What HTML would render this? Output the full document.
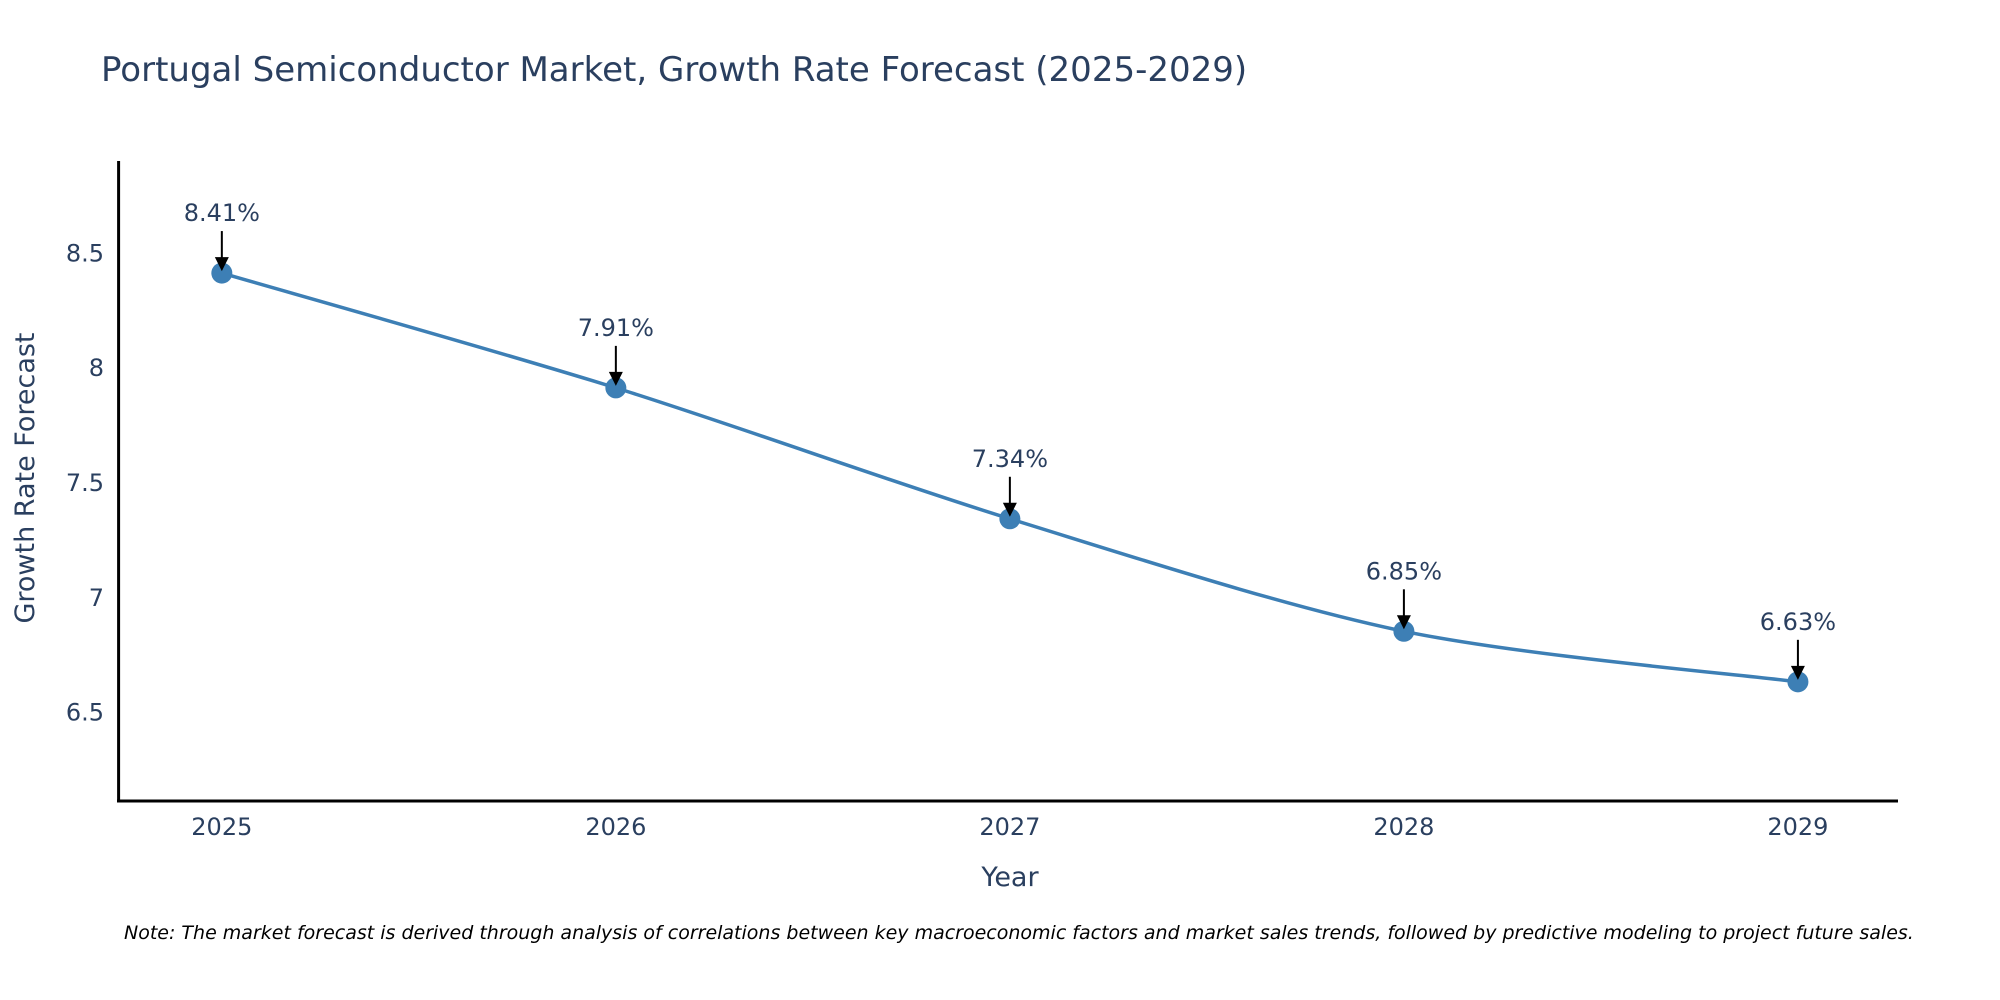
<!DOCTYPE html>
<html><head><meta charset="utf-8"><style>
html,body{margin:0;padding:0;background:#fff;}
svg{display:block;font-family:"DejaVu Sans","Liberation Sans",sans-serif;}
</style></head><body>
<svg id="chart" width="2000" height="1000" xmlns="http://www.w3.org/2000/svg">
<text x="101" y="81" font-size="34" fill="#2a3f5f">Portugal Semiconductor Market, Growth Rate Forecast (2025-2029)</text>
<g id="yticks"></g>
<g id="xticks"></g>
<line x1="118.6" y1="161" x2="118.6" y2="802" stroke="#000" stroke-width="3"/>
<line x1="117" y1="801" x2="1898" y2="801" stroke="#000" stroke-width="3"/>
<path id="series" fill="none" stroke="#3d7fb5" stroke-width="3.5"/>
<g id="marks"></g>
<g id="annos"></g>
<text x="1010" y="886" font-size="27" fill="#2a3f5f" text-anchor="middle">Year</text>
<text transform="translate(34,478) rotate(-90)" font-size="27" fill="#2a3f5f" text-anchor="middle">Growth Rate Forecast</text>
<text x="124" y="939" font-size="19" font-style="italic" fill="#000">Note: The market forecast is derived through analysis of correlations between key macroeconomic factors and market sales trends, followed by predictive modeling to project future sales.</text>
</svg>
<script>
const years = [2025, 2026, 2027, 2028, 2029];
const values = [8.41, 7.91, 7.34, 6.85, 6.63];
const valueLabels = ["8.41%", "7.91%", "7.34%", "6.85%", "6.63%"];
const yTickValues = [6.5, 7, 7.5, 8, 8.5];
const yTickLabels = ["6.5", "7", "7.5", "8", "8.5"];

const NS = "http://www.w3.org/2000/svg";
const X0 = 118.6, X1 = 1898, Y0 = 161, Y1 = 801;
const xMin = 2024.738, xMax = 2029.254, yMin = 6.111, yMax = 8.898;
function xs(v){ return X0 + (v - xMin) / (xMax - xMin) * (X1 - X0); }
function ys(v){ return Y1 - (v - yMin) / (yMax - yMin) * (Y1 - Y0); }
function mk(tag, attrs, parent){ const e = document.createElementNS(NS, tag); for (const k in attrs) e.setAttribute(k, attrs[k]); parent.appendChild(e); return e; }

const yt = document.getElementById('yticks');
yTickValues.forEach((v, i) => {
  const t = mk('text', {x: 104, y: ys(v) + 9, 'font-size': 24, fill: '#2a3f5f', 'text-anchor': 'end'}, yt);
  
  
  t.textContent = yTickLabels[i];
});
const xt = document.getElementById('xticks');
years.forEach(y => {
  const t = mk('text', {x: xs(y), y: 835, 'font-size': 24, fill: '#2a3f5f', 'text-anchor': 'middle'}, xt);
  
  
  t.textContent = String(y);
});

const pts = years.map((y, i) => [xs(y), ys(values[i])]);
let d = 'M' + pts[0][0] + ',' + pts[0][1];
const s = 0.15;
for (let i = 0; i < pts.length - 1; i++) {
  const p0 = pts[Math.max(0, i - 1)], p1 = pts[i], p2 = pts[i + 1], p3 = pts[Math.min(pts.length - 1, i + 2)];
  const c1 = [p1[0] + (p2[0] - p0[0]) * s, p1[1] + (p2[1] - p0[1]) * s];
  const c2 = [p2[0] - (p3[0] - p1[0]) * s, p2[1] - (p3[1] - p1[1]) * s];
  d += ' C' + c1[0] + ',' + c1[1] + ' ' + c2[0] + ',' + c2[1] + ' ' + p2[0] + ',' + p2[1];
}
document.getElementById('series').setAttribute('d', d);

const mg = document.getElementById('marks');
const ag = document.getElementById('annos');
pts.forEach((p, i) => {
  const c = mk('circle', {cx: p[0], cy: p[1], r: 10.5, fill: '#3d7fb5'}, mg);
  
  
  const l = mk('line', {x1: p[0], y1: p[1] - 42, x2: p[0], y2: p[1] - 14, stroke: '#000', 'stroke-width': 2}, ag);
  
  
  const h = mk('polygon', {points: (p[0]-7)+','+(p[1]-16)+' '+(p[0]+7)+','+(p[1]-16)+' '+p[0]+','+(p[1]-2), fill: '#000'}, ag);
  
  
  const t = mk('text', {x: p[0], y: p[1] - 52, 'font-size': 24, fill: '#2a3f5f', 'text-anchor': 'middle'}, ag);
  
  
  t.textContent = valueLabels[i];
});
</script>
</body></html>
